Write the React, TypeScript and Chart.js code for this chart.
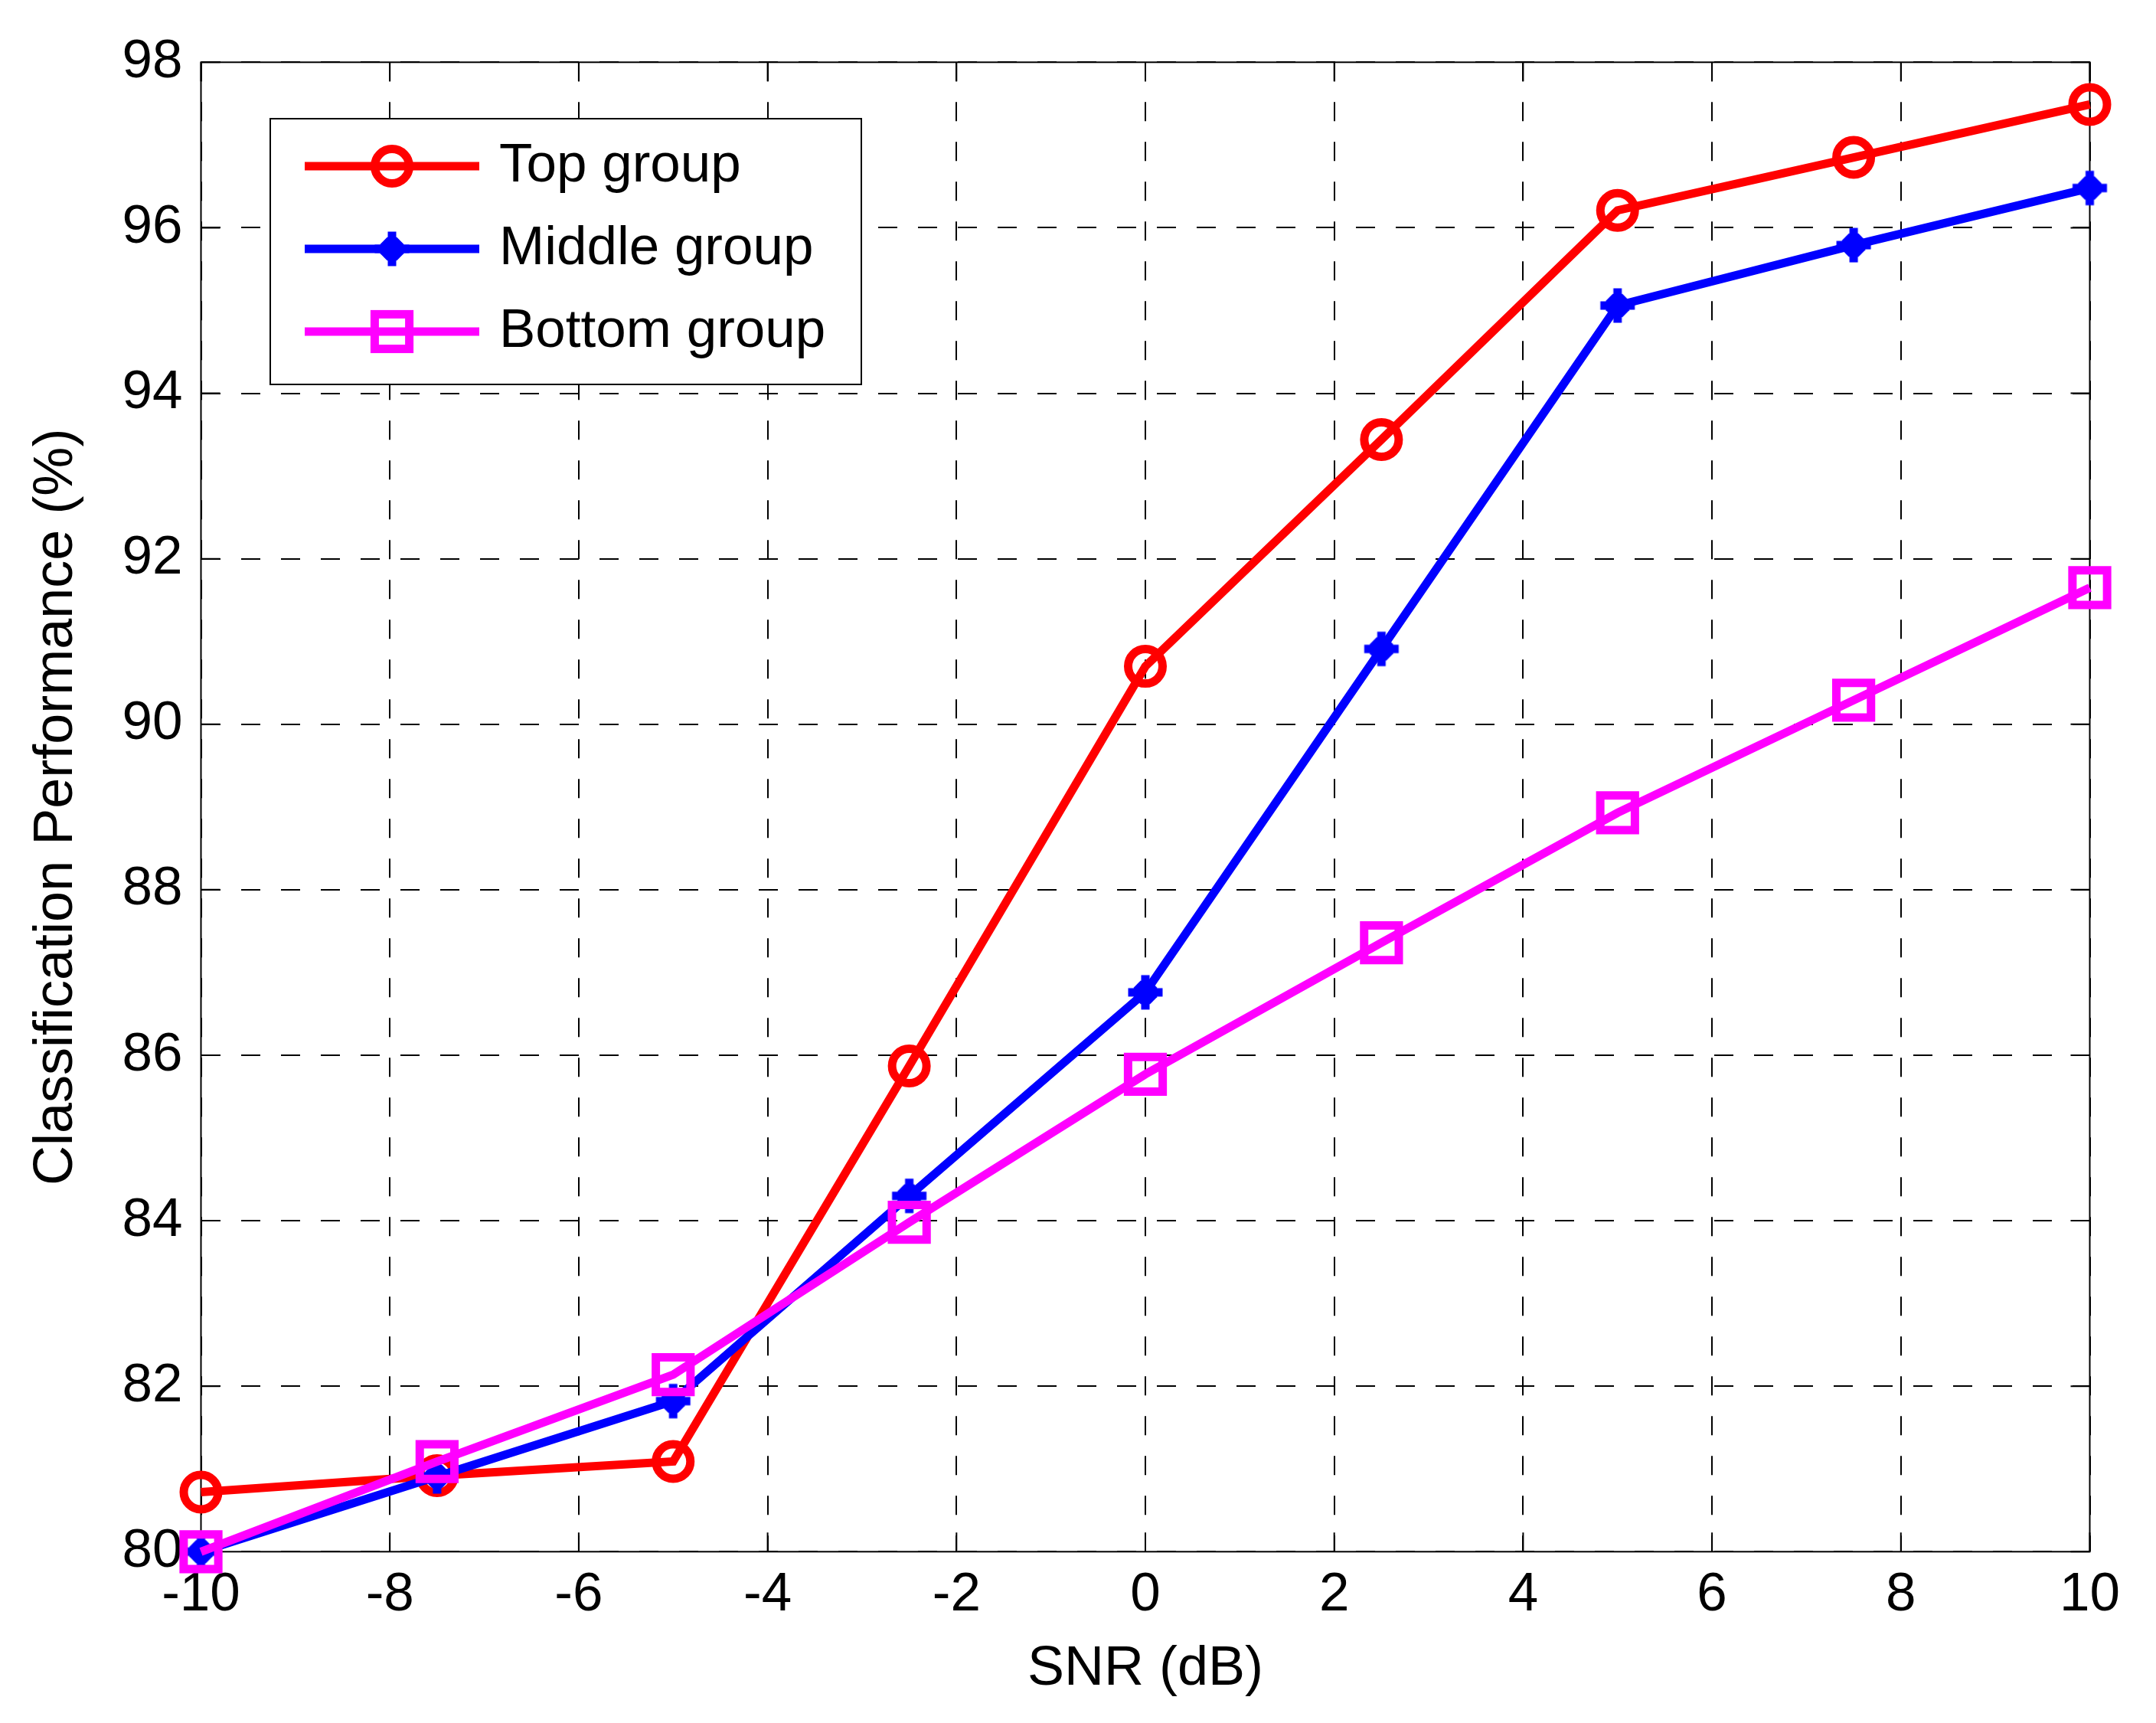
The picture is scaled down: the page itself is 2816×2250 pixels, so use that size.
import React, { useEffect, useRef } from "react";
import { Chart, registerables } from "chart.js";

Chart.register(...registerables);

// SNR values on the x axis (dB)
const snrDb = [-10, -7.5, -5, -2.5, 0, 2.5, 5, 7.5, 10];
// classification performance (%) per group
const topGroup = [80.72, 80.92, 81.09, 85.87, 90.7, 93.44, 96.21, 96.85, 97.49];
const middleGroup = [80.0, 80.91, 81.82, 84.3, 86.76, 90.91, 95.06, 95.79, 96.48];
const bottomGroup = [80.0, 81.09, 82.14, 83.98, 85.77, 87.36, 88.93, 90.29, 91.65];
const groupNames = ["Top group", "Middle group", "Bottom group"];
const groupColors = ["#ff0000", "#0000ff", "#ff00ff"];

const FONT = "'Liberation Sans', Arial, Helvetica, sans-serif";
const W = 2816;
const H = 2250;

// plus sign with a filled centre, like the blue marker in the figure
function makeStarMarker(color: string) {
  const c = document.createElement("canvas");
  c.width = 48;
  c.height = 48;
  const g = c.getContext("2d")!;
  g.fillStyle = color;
  g.fillRect(18.5, 1.5, 11, 45);
  g.fillRect(1.5, 18.5, 45, 11);
  g.beginPath();
  for (let k = 0; k < 8; k++) {
    const a = Math.PI / 8 + (k * Math.PI) / 4;
    const px = 24 + 16.5 * Math.cos(a);
    const py = 24 + 16.5 * Math.sin(a);
    if (k === 0) g.moveTo(px, py);
    else g.lineTo(px, py);
  }
  g.closePath();
  g.fill();
  return c;
}

function drawLegendMarker(
  ctx: CanvasRenderingContext2D,
  i: number,
  x: number,
  y: number,
  star: HTMLCanvasElement
) {
  ctx.save();
  ctx.strokeStyle = groupColors[i];
  ctx.lineWidth = 11;
  if (i === 0) {
    ctx.beginPath();
    ctx.arc(x, y, 22.5, 0, Math.PI * 2);
    ctx.stroke();
  } else if (i === 1) {
    ctx.drawImage(star, x - star.width / 2, y - star.height / 2);
  } else {
    ctx.strokeRect(x - 22.6, y - 22.6, 45.2, 45.2);
  }
  ctx.restore();
}

const axesBox = {
  id: "axesBox",
  beforeDatasetsDraw(chart: any) {
    const { ctx, chartArea: a, scales } = chart;
    ctx.save();
    ctx.strokeStyle = "#000";
    ctx.lineWidth = 2;
    ctx.setLineDash([]);
    ctx.strokeRect(a.left, a.top, a.right - a.left, a.bottom - a.top);
    ctx.beginPath();
    scales.x.ticks.forEach((t: any) => {
      const px = scales.x.getPixelForValue(t.value);
      ctx.moveTo(px, a.bottom);
      ctx.lineTo(px, a.bottom - 25);
      ctx.moveTo(px, a.top);
      ctx.lineTo(px, a.top + 25);
    });
    scales.y.ticks.forEach((t: any) => {
      const py = scales.y.getPixelForValue(t.value);
      ctx.moveTo(a.left, py);
      ctx.lineTo(a.left + 25, py);
      ctx.moveTo(a.right, py);
      ctx.lineTo(a.right - 25, py);
    });
    ctx.stroke();
    ctx.restore();
  },
};

const App: React.FC = () => {
  const chartRef = useRef<HTMLCanvasElement>(null);
  const chartInstance = useRef<Chart>();

  useEffect(() => {
    if (!chartRef.current) return;
    const ctx = chartRef.current.getContext("2d");
    if (!ctx) return;

    const star = makeStarMarker(groupColors[1]);

    const legendBox = {
      id: "legendBox",
      afterDraw(chart: any) {
        const c: CanvasRenderingContext2D = chart.ctx;
        c.save();
        c.fillStyle = "#fff";
        c.fillRect(353, 155, 772, 347);
        c.strokeStyle = "#000";
        c.lineWidth = 2;
        c.strokeRect(353, 155, 772, 347);
        groupNames.forEach((name, i) => {
          const y = 217 + i * 108;
          c.strokeStyle = groupColors[i];
          c.lineWidth = 11;
          c.beginPath();
          c.moveTo(398, y);
          c.lineTo(626, y);
          c.stroke();
          drawLegendMarker(c, i, 512, y, star);
          c.fillStyle = "#000";
          c.font = `71px ${FONT}`;
          c.textBaseline = "middle";
          c.textAlign = "left";
          c.fillText(name, 652, y);
        });
        c.restore();
      },
    };

    const series = [topGroup, middleGroup, bottomGroup];

    chartInstance.current = new Chart(ctx, {
      type: "line",
      data: {
        datasets: series.map((vals, i) => ({
          label: groupNames[i],
          data: snrDb.map((x, k) => ({ x, y: vals[k] })),
          borderColor: groupColors[i],
          backgroundColor: "rgba(0,0,0,0)",
          borderWidth: 11,
          pointStyle: i === 0 ? "circle" : i === 1 ? star : "rect",
          pointRadius: i === 0 ? 22.5 : i === 1 ? 24 : 32,
          pointBorderWidth: 11,
          pointBorderColor: groupColors[i],
          pointBackgroundColor: "rgba(0,0,0,0)",
          tension: 0,
          clip: false,
          order: 3 - i,
        })),
      },
      options: {
        animation: false,
        responsive: false,
        devicePixelRatio: 1,
        events: [],
        layout: { padding: { top: 81.3, right: 86.5, left: 0, bottom: 0 } },
        plugins: {
          legend: { display: false },
          tooltip: { enabled: false },
        },
        scales: {
          x: {
            type: "linear",
            min: -10,
            max: 10,
            afterFit: (s: any) => {
              s.height = 223.7;
            },
            ticks: {
              stepSize: 2,
              padding: 15,
              color: "#000",
              font: { family: FONT, size: 71 },
              maxRotation: 0,
            },
            grid: {
              color: "#000",
              lineWidth: 2,
              drawTicks: false,
              borderDash: [25, 27],
            } as any,
            border: { display: false, dash: [25, 27] },
            title: {
              display: true,
              text: "SNR (dB)",
              color: "#000",
              font: { family: FONT, size: 72 },
              padding: { top: 0, bottom: 27 },
            },
          },
          y: {
            type: "linear",
            min: 80,
            max: 98,
            afterFit: (s: any) => {
              s.width = 262.5;
            },
            ticks: {
              stepSize: 2,
              padding: 24,
              color: "#000",
              font: { family: FONT, size: 71 },
            },
            grid: {
              color: "#000",
              lineWidth: 2,
              drawTicks: false,
              borderDash: [25, 27],
            } as any,
            border: { display: false, dash: [25, 27] },
            title: {
              display: true,
              text: "Classification Performance (%)",
              color: "#000",
              font: { family: FONT, size: 72 },
              padding: { top: 31, bottom: 0 },
            },
          },
        },
      },
      plugins: [axesBox, legendBox],
    });

    return () => {
      if (chartInstance.current) {
        chartInstance.current.destroy();
      }
    };
  }, []);

  return (
    <div
      style={{
        position: "fixed",
        left: 0,
        top: 0,
        width: W,
        height: H,
        background: "#fff",
      }}
    >
      <canvas
        ref={chartRef}
        width={W}
        height={H}
        style={{ display: "block", width: W, height: H }}
      />
    </div>
  );
};

export default App;
